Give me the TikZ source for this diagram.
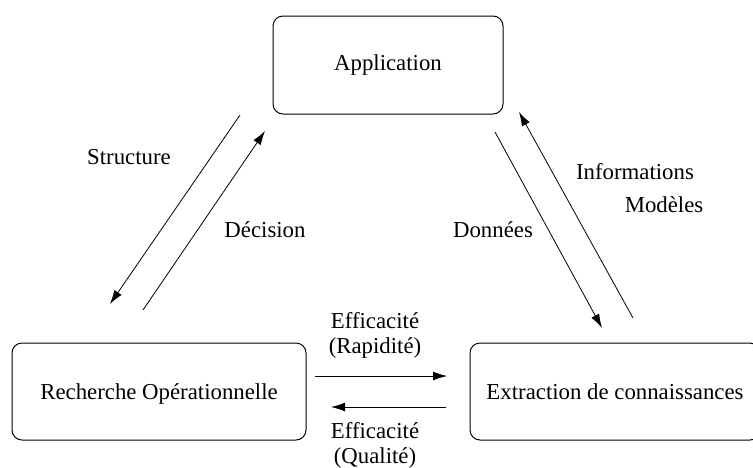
\documentclass[tikz,border=0pt]{standalone}
\usepackage{fontspec}
\setmainfont{Liberation Serif}
\usetikzlibrary{arrows.meta}
\newcommand\fleche[2]{
        \draw[fleche] (#1) -- (#2);
}

\begin{document}
\begin{tikzpicture}[x=0.5pt,y=-0.5pt,
    font=\fontsize{11.4pt}{12.5pt}\selectfont,
    bloc/.style={draw,rounded corners=5pt,inner sep=0pt,line width=0.5pt},
    fleche/.style={-{Latex[length=7pt,width=4.4pt]},line width=0.4pt},
    etiq/.style={inner sep=0pt,align=center}]

    \useasboundingbox (0,0) rectangle (753,467);
    \clip (0,0) rectangle (753,467);

    %les trois boites:
    \node[bloc,minimum width=115pt,minimum height=49pt] (appli) at (388,65) {Application};
    \node[bloc,minimum width=147pt,minimum height=48.5pt,text depth=-3pt] (recop) at (159,391.5) {Recherche Op\'erationnelle};
    \node[bloc,minimum width=145pt,minimum height=48.5pt,text depth=-3pt] (extrac) at (615,391.5) {Extraction de connaissances};

    %extremites des fleches:
    \coordinate (structA) at (240,115);
    \coordinate (structB) at (110,304);
    \coordinate (decisA)  at (143,310);
    \coordinate (decisB)  at (265,131);
    \coordinate (donnA)   at (495,132);
    \coordinate (donnB)   at (602,328);
    \coordinate (infoA)   at (633,318);
    \coordinate (infoB)   at (519,112);
    \coordinate (rapidA)  at (315,376);
    \coordinate (rapidB)  at (447,376);
    \coordinate (qualA)   at (446,407);
    \coordinate (qualB)   at (331,407);

    \fleche{structA}{structB};
    \fleche{decisA}{decisB};
    \fleche{donnA}{donnB};
    \fleche{infoA}{infoB};
    \fleche{rapidA}{rapidB};
    \fleche{qualA}{qualB};

    %etiquettes:
    \node[etiq] (structure) at (129,157) {Structure};
    \node[etiq] (decision)  at (265,230) {D\'ecision};
    \node[etiq] (donnees)   at (493,230) {Donn\'ees};
    \node[etiq] (infos)     at (635,172) {Informations};
    \node[etiq] (modeles)   at (664,205) {Mod\`eles};
    \node[etiq] (rapidite)  at (375,335) {Efficacit\'e\\(Rapidit\'e)};
    \node[etiq] (qualite)   at (375,445) {Efficacit\'e\\(Qualit\'e)};

\end{tikzpicture}
\end{document}
